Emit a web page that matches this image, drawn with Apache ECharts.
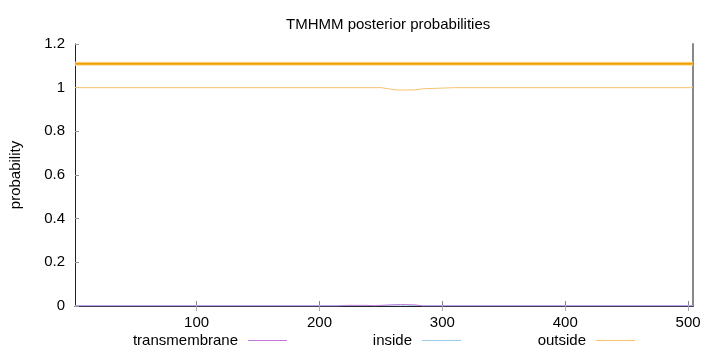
<!DOCTYPE html>
<html>
<head>
<meta charset="utf-8">
<script src="https://cdn.jsdelivr.net/npm/echarts@6/dist/echarts.min.js"></script>
<style>html,body{margin:0;padding:0;background:#fff}#c{width:720px;height:352px}</style>
</head>
<body>
<div id="c"></div>
<script>
// Data (residue position, posterior probability)
const outsidePos = [1, 250, 256, 262, 270, 278, 284, 295, 310, 504];
const outsideProb = [1, 1, 0.995, 0.99, 0.989, 0.99, 0.995, 0.997, 1, 1];
const insidePos = [1, 240, 250, 262, 270, 284, 504];
const insideProb = [0.002, 0.002, 0.003, 0.004, 0.004, 0.002, 0.002];
const tmPos = [1, 215, 222, 238, 245, 258, 266, 278, 284, 504];
const tmProb = [0, 0, 0.003, 0.003, 0.001, 0.005, 0.007, 0.005, 0, 0];
const topoPos = [1, 504];
const topoLevel = [1.11, 1.11];
const xTicks = [100, 200, 300, 400, 500];
const seriesNames = ['transmembrane', 'inside', 'outside'];

const pairs = (xs, ys) => xs.map((x, i) => [x, ys[i]]);
const font = 'Liberation Sans, Arial, sans-serif';
const chart = echarts.init(document.getElementById('c'), null, {renderer: 'canvas'});
const colors = {transmembrane: '#c27ad8', inside: '#9ccbea', outside: '#f5c36e'};

function legendFor(name, right) {
  return {
    data: [name], right: right, top: 333, padding: 0, align: 'right',
    icon: 'rect', itemWidth: 39, itemHeight: 1,
    textStyle: {fontFamily: font, fontSize: 15, color: '#000', padding: [0, 5, 0, 0]},
    selectedMode: false
  };
}

chart.setOption({
  animation: false,
  title: {text: 'TMHMM posterior probabilities', left: 281, top: 12,
    textStyle: {fontFamily: font, fontSize: 15, fontWeight: 'normal', color: '#000'}},
  legend: [legendFor(seriesNames[0], 433), legendFor(seriesNames[1], 259), legendFor(seriesNames[2], 85)],
  grid: {left: 73, right: 27, top: 44, bottom: 46},
  xAxis: [{
    type: 'value', min: 1, max: 504, position: 'bottom',
    axisLine: {lineStyle: {color: '#555', width: 1}},
    axisTick: {inside: true, length: 5, customValues: xTicks, lineStyle: {color: '#888'}},
    axisLabel: {customValues: xTicks, margin: 9, fontFamily: font, fontSize: 15, color: '#000'},
    splitLine: {show: false}
  }, {
    type: 'value', min: 1, max: 504, position: 'top',
    axisLine: {lineStyle: {color: '#222', width: 1}},
    axisTick: {inside: true, length: 5, customValues: xTicks, lineStyle: {color: '#aaa'}},
    axisLabel: {show: false}, splitLine: {show: false}
  }],
  yAxis: [{
    type: 'value', min: 0, max: 1.2, interval: 0.2, position: 'left',
    name: 'probability', nameLocation: 'middle', nameGap: 52, nameRotate: 90,
    nameTextStyle: {fontFamily: font, fontSize: 15, color: '#000'},
    axisLine: {show: true, lineStyle: {color: '#222', width: 1}},
    axisTick: {show: true, inside: true, length: 4, lineStyle: {color: '#999'}},
    axisLabel: {margin: 10, fontFamily: font, fontSize: 15, color: '#000',
      formatter: v => String(Math.round(v * 10) / 10)},
    splitLine: {show: false}
  }, {
    type: 'value', min: 0, max: 1.2, interval: 0.2, position: 'right',
    axisLine: {show: true, lineStyle: {color: '#888', width: 2}},
    axisTick: {show: false},
    axisLabel: {show: false}, splitLine: {show: false}
  }],
  series: [
    {name: 'topology-halo', type: 'line', data: pairs(topoPos, topoLevel), symbol: 'none',
      lineStyle: {color: '#f9dca0', width: 4}, silent: true, z: 3},
    {name: 'topology', type: 'line', data: pairs(topoPos, topoLevel), symbol: 'none',
      lineStyle: {color: '#f0a000', width: 2}, silent: true, z: 4},
    {name: seriesNames[1], type: 'line', data: pairs(insidePos, insideProb), symbol: 'none',
      color: colors.inside, lineStyle: {color: colors.inside, width: 1}, z: 2},
    {name: seriesNames[0], type: 'line', data: pairs(tmPos, tmProb), symbol: 'none',
      color: colors.transmembrane, lineStyle: {color: colors.transmembrane, width: 1}, z: 2},
    {name: seriesNames[2], type: 'line', data: pairs(outsidePos, outsideProb), symbol: 'none',
      color: colors.outside, lineStyle: {color: colors.outside, width: 1}, z: 2}
  ]
});
</script>
</body>
</html>
